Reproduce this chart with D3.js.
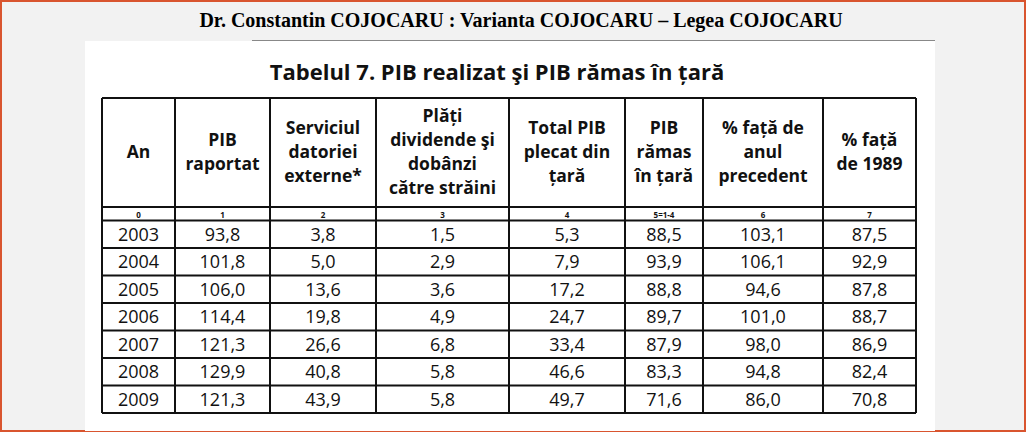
<!DOCTYPE html>
<html><head><meta charset="utf-8">
<script src="https://cdn.jsdelivr.net/npm/d3@7"></script>
<style>body{margin:0;background:#f2f2f2}</style>
</head><body><svg id="c" width="1026" height="432"></svg>
<script>
const headers = [["An"], ["PIB", "raportat"], ["Serviciul", "datoriei", "externe*"],
  ["Plăți", "dividende şi", "dobânzi", "către străini"], ["Total PIB", "plecat din", "țară"],
  ["PIB", "rămas", "în țară"], ["% față de", "anul", "precedent"], ["% față", "de 1989"]];
const indexLabels = ["0", "1", "2", "3", "4", "5=1-4", "6", "7"];
const years = ["2003", "2004", "2005", "2006", "2007", "2008", "2009"];
const pibRaportat = ["93,8", "101,8", "106,0", "114,4", "121,3", "129,9", "121,3"];
const serviciul = ["3,8", "5,0", "13,6", "19,8", "26,6", "40,8", "43,9"];
const plati = ["1,5", "2,9", "3,6", "4,9", "6,8", "5,8", "5,8"];
const totalPlecat = ["5,3", "7,9", "17,2", "24,7", "33,4", "46,6", "49,7"];
const pibRamas = ["88,5", "93,9", "88,8", "89,7", "87,9", "83,3", "71,6"];
const fataPrec = ["103,1", "106,1", "94,6", "101,0", "98,0", "94,8", "86,0"];
const fata1989 = ["87,5", "92,9", "87,8", "88,7", "86,9", "82,4", "70,8"];

const columns = [years, pibRaportat, serviciul, plati, totalPlecat, pibRamas, fataPrec, fata1989];
const edges = [102, 175, 270, 376, 509, 625, 703, 823, 916];

const svg = d3.select("#c");
svg.append("rect").attr("x", 1).attr("y", 1).attr("width", 1024).attr("height", 430)
  .attr("fill", "#f2f2f2").attr("stroke", "#d9552f").attr("stroke-width", 2);
svg.append("rect").attr("x", 85).attr("y", 41).attr("width", 850).attr("height", 390).attr("fill", "#fff");
svg.append("line").attr("x1", 252).attr("x2", 935).attr("y1", 40.5).attr("y2", 40.5)
  .attr("stroke", "#888");
svg.append("text").attr("x", 521).attr("y", 27).attr("text-anchor", "middle")
  .attr("font-family", "Liberation Serif").attr("font-weight", "bold").attr("font-size", 20)
  .text("Dr. Constantin COJOCARU : Varianta COJOCARU – Legea COJOCARU");
svg.append("text").attr("x", 497).attr("y", 80).attr("text-anchor", "middle")
  .attr("font-family", "Open Sans").attr("font-weight", "bold").attr("font-size", 22)
  .attr("fill", "#111").text("Tabelul 7. PIB realizat şi PIB rămas în țară");

const x = i => edges[i];
const y = d3.scaleBand().domain(years).range([220.5, 413]);
const g = svg.append("g").attr("font-family", "Open Sans").attr("fill", "#111");

// header
headers.forEach((lines, i) => {
  const cx = (x(i) + x(i + 1)) / 2, lh = 24, y0 = 152 - (lines.length - 1) * lh / 2 + 6;
  g.append("text").attr("text-anchor", "middle").attr("font-weight", "bold").attr("font-size", 17.5)
    .selectAll("tspan").data(lines).join("tspan")
    .attr("x", cx).attr("y", (d, k) => y0 + k * lh).text(d => d);
  g.append("text").attr("x", cx).attr("y", 217.5).attr("text-anchor", "middle")
    .attr("font-weight", "bold").attr("font-size", 8).text(indexLabels[i]);
});

// body
columns.forEach((vals, i) => {
  const cx = (x(i) + x(i + 1)) / 2;
  g.selectAll(null).data(vals).join("text")
    .attr("x", cx).attr("y", (d, k) => y(years[k]) + y.bandwidth() / 2 + 6.5)
    .attr("text-anchor", "middle").attr("font-size", 18).text(d => d);
});

// grid
const lines = svg.append("g").attr("stroke", "#111").attr("stroke-width", 2);
edges.forEach(e => lines.append("line").attr("x1", e).attr("x2", e).attr("y1", 98).attr("y2", 413));
[98, 207, 220.5].concat(years.map(d => y(d) + y.bandwidth())).forEach(v =>
  lines.append("line").attr("x1", 102).attr("x2", 916).attr("y1", v).attr("y2", v));
</script></body></html>
